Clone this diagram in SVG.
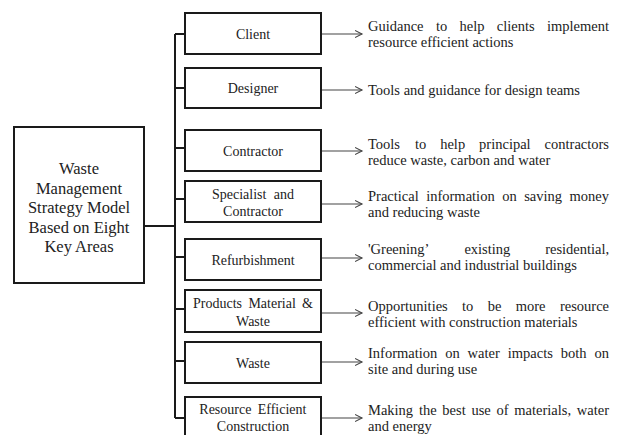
<svg xmlns="http://www.w3.org/2000/svg" width="620" height="435" viewBox="0 0 620 435">
<style>
.box{fill:#fff;stroke:#1a1a1a;stroke-width:2}
.conn{fill:none;stroke:#1a1a1a;stroke-width:2}
.arr{fill:none;stroke:#444;stroke-width:1.2}
.t{font-family:"Liberation Serif","Times New Roman",serif;fill:#222}
.main{font-size:16.5px;text-anchor:middle}
.node{font-size:14px;text-anchor:middle}
.nodej{font-size:14px}
.desc{font-size:14.5px}
</style>
<defs>
<marker id="ah" markerUnits="userSpaceOnUse" markerWidth="10" markerHeight="10" refX="7" refY="4" orient="auto">
<path d="M0,0.5 L7,4 L0,7.5" fill="none" stroke="#444" stroke-width="1.1"/>
</marker>
</defs>
<rect width="620" height="435" fill="#fff"/>

<g id="connectors">
<path class="conn" d="M144,226 H175 M175,34 V418 M175,34 H185 M175,88 H185 M175,148 H185 M175,199 H185 M175,257 H185 M175,309 H185 M175,361 H185 M175,418 H185"/>
<line class="arr" x1="321" y1="34" x2="362" y2="34" marker-end="url(#ah)"/>
<line class="arr" x1="321" y1="90" x2="362" y2="90" marker-end="url(#ah)"/>
<line class="arr" x1="321" y1="151" x2="362" y2="151" marker-end="url(#ah)"/>
<line class="arr" x1="321" y1="204" x2="362" y2="204" marker-end="url(#ah)"/>
<line class="arr" x1="321" y1="258" x2="362" y2="258" marker-end="url(#ah)"/>
<line class="arr" x1="321" y1="313" x2="362" y2="313" marker-end="url(#ah)"/>
<line class="arr" x1="321" y1="362" x2="362" y2="362" marker-end="url(#ah)"/>
<line class="arr" x1="321" y1="418" x2="362" y2="418" marker-end="url(#ah)"/>
</g>

<g id="root">
<rect class="box" x="14" y="127" width="130" height="156"/>
<text class="t main" x="79"><tspan x="79" y="174">Waste</tspan><tspan x="79" y="193.5">Management</tspan><tspan x="79" y="213">Strategy Model</tspan><tspan x="79" y="232.5">Based on Eight</tspan><tspan x="79" y="252">Key Areas</tspan></text>
</g>

<g id="client">
<rect class="box" x="185" y="13" width="136" height="41"/>
<text class="t node" x="253" y="39">Client</text>
</g>
<g id="designer">
<rect class="box" x="185" y="68" width="136" height="40"/>
<text class="t node" x="253" y="93">Designer</text>
</g>
<g id="contractor">
<rect class="box" x="185" y="130" width="136" height="41"/>
<text class="t node" x="253" y="155.5">Contractor</text>
</g>
<g id="specialist">
<rect class="box" x="185" y="181" width="136" height="41"/>
<text class="t nodej" y="199"><tspan x="212">Specialist</tspan><tspan x="273.8">and</tspan></text>
<text class="t node" x="253" y="216">Contractor</text>
</g>
<g id="refurbishment">
<rect class="box" x="185" y="239" width="136" height="41"/>
<text class="t node" x="253" y="265">Refurbishment</text>
</g>
<g id="products">
<rect class="box" x="185" y="290" width="136" height="42"/>
<text class="t nodej" y="308"><tspan x="193">Products</tspan><tspan x="248.4">Material</tspan><tspan x="302.1">&amp;</tspan></text>
<text class="t node" x="253" y="326">Waste</text>
</g>
<g id="waste">
<rect class="box" x="185" y="342" width="136" height="41"/>
<text class="t node" x="253" y="367.5">Waste</text>
</g>
<g id="resource">
<rect class="box" x="185" y="397" width="136" height="48"/>
<text class="t nodej" y="414"><tspan x="199.3">Resource</tspan><tspan x="257.7">Efficient</tspan></text>
<text class="t node" x="253" y="431">Construction</text>
</g>

<g id="descriptions">
<text class="t desc" y="31"><tspan x="368">Guidance</tspan><tspan x="435.9">to</tspan><tspan x="459.5">help</tspan><tspan x="496.8">clients</tspan><tspan x="547">implement</tspan></text>
<text class="t desc" x="368" y="47">resource efficient actions</text>

<text class="t desc" x="368" y="95">Tools and guidance for design teams</text>

<text class="t desc" y="148.5"><tspan x="368">Tools</tspan><tspan x="415">to</tspan><tspan x="440.2">help</tspan><tspan x="479.1">principal</tspan><tspan x="544.6">contractors</tspan></text>
<text class="t desc" x="368" y="164.5">reduce waste, carbon and water</text>

<text class="t desc" y="201"><tspan x="368">Practical</tspan><tspan x="426.2">information</tspan><tspan x="502.2">on</tspan><tspan x="524.2">saving</tspan><tspan x="569.5">money</tspan></text>
<text class="t desc" x="368" y="217">and reducing waste</text>

<text class="t desc" y="254"><tspan x="368">'Greening’</tspan><tspan x="464.4">existing</tspan><tspan x="545.2">residential,</tspan></text>
<text class="t desc" x="368" y="270">commercial and industrial buildings</text>

<text class="t desc" y="311"><tspan x="368">Opportunities</tspan><tspan x="462.1">to</tspan><tspan x="487.7">be</tspan><tspan x="515.7">more</tspan><tspan x="559.9">resource</tspan></text>
<text class="t desc" x="368" y="327">efficient with construction materials</text>

<text class="t desc" y="357.5"><tspan x="368">Information</tspan><tspan x="445.2">on</tspan><tspan x="467.6">water</tspan><tspan x="507.8">impacts</tspan><tspan x="560.8">both</tspan><tspan x="594.5">on</tspan></text>
<text class="t desc" x="368" y="373.5">site and during use</text>

<text class="t desc" y="414.5"><tspan x="368">Making</tspan><tspan x="418.9">the</tspan><tspan x="442.3">best</tspan><tspan x="471.4">use</tspan><tspan x="496.5">of</tspan><tspan x="514.3">materials,</tspan><tspan x="576.8">water</tspan></text>
<text class="t desc" x="368" y="430.5">and energy</text>
</g>
</svg>
